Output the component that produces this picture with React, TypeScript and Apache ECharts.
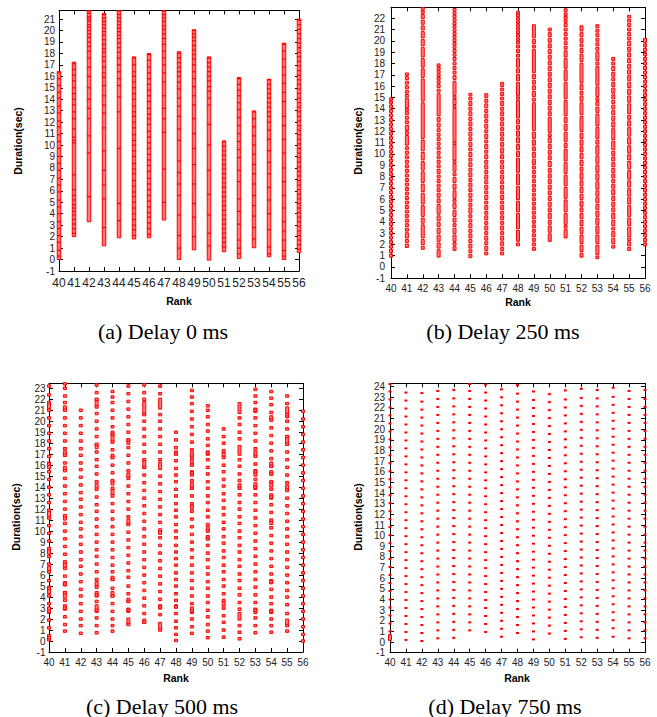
import React, { useEffect, useRef } from "react";
import * as echarts from "echarts";

// ---------- data ----------
const ranks = [40, 41, 42, 43, 44, 45, 46, 47, 48, 49, 50, 51, 52, 53, 54, 55, 56];
const yTicksA = [-1, 0, 1, 2, 3, 4, 5, 6, 7, 8, 9, 10, 11, 12, 13, 14, 15, 16, 17, 18, 19, 20, 21];
const yTicksB = [-1, 0, 1, 2, 3, 4, 5, 6, 7, 8, 9, 10, 11, 12, 13, 14, 15, 16, 17, 18, 19, 20, 21, 22];
const yTicksC = [-1, 0, 1, 2, 3, 4, 5, 6, 7, 8, 9, 10, 11, 12, 13, 14, 15, 16, 17, 18, 19, 20, 21, 22, 23];
const yTicksD = [-1, 0, 1, 2, 3, 4, 5, 6, 7, 8, 9, 10, 11, 12, 13, 14, 15, 16, 17, 18, 19, 20, 21, 22, 23, 24];
const captions = ["(a) Delay 0 ms", "(b) Delay 250 ms", "(c) Delay 500 ms", "(d) Delay 750 ms"];

// (a) Delay 0 ms : column extent per rank + event boundaries inside each column
const aLow = [0, 2.0, 3.3, 1.2, 1.9, 1.8, 1.9, 3.45, 0, 0.85, -0.05, 0.68, 0.1, 1.03, 0.24, 0, 0.62];
const aHigh = [16.42, 17.24, 21.75, 21.5, 21.75, 17.7, 18.0, 21.75, 18.15, 20.07, 17.7, 10.36, 15.9, 12.98, 15.75, 18.9, 21.0];
const aMarks: number[][] = [
  [16.3, 15.8, 15.2, 14.6, 14.1, 13.4, 12.8, 12.1, 11.6, 10.9, 10.3, 9.7, 9.0, 8.4, 7.8, 7.1, 6.5, 5.9, 5.2, 4.6, 4.0, 3.3, 2.7, 2.1, 1.5, 0.8, 0.3],
  [17.1, 16.6, 16.1, 15.6, 15.0, 14.5, 14.0, 13.5, 12.9, 12.3, 11.4, 10.7, 10.4, 10.2, 7.4, 6.1, 5.6, 5.2, 4.8, 4.5, 4.2, 3.9, 3.5, 3.1, 2.7, 2.3],
  [21.7, 21.5, 21.2, 21.0, 20.8, 20.5, 20.3, 20.0, 19.7, 19.4, 19.0, 18.6, 18.2, 17.6, 16.8, 16.0, 15.0, 14.0, 13.2, 12.3, 10.8, 9.3, 5.5],
  [21.4, 21.1, 20.8, 20.5, 20.2, 19.9, 19.6, 19.2, 18.8, 18.4, 18.1, 17.7, 17.3, 16.8, 16.3, 15.9, 15.2, 14.3, 13.5, 12.8, 11.5, 9.5, 7.8, 6.5, 5.3, 2.8],
  [21.7, 21.4, 21.1, 20.8, 20.5, 20.2, 19.9, 19.6, 19.3, 18.9, 18.5, 18.1, 17.6, 17.0, 16.4, 15.8, 15.2, 14.2, 12.9, 9.7, 4.9, 3.4],
  [17.6, 17.0, 16.4, 16.0, 15.5, 15.0, 14.5, 14.0, 13.4, 12.9, 12.5, 12.0, 11.5, 10.9, 10.4, 10.0, 9.5, 9.0, 8.4, 7.9, 7.5, 6.9, 6.4, 5.9, 5.5, 5.0, 4.5, 4.0, 3.5, 3.0, 2.6, 2.1],
  [17.9, 17.4, 16.8, 16.3, 15.8, 15.3, 14.8, 14.3, 13.8, 13.2, 12.7, 12.3, 11.8, 11.2, 10.7, 10.2, 9.7, 9.2, 8.7, 8.2, 7.7, 7.1, 6.6, 6.1, 5.6, 5.1, 4.6, 4.1, 3.7, 3.2, 2.7, 2.2],
  [21.7, 21.4, 21.1, 20.8, 20.4, 20.1, 19.7, 19.3, 18.8, 18.2, 17.6, 17.0, 16.3, 15.5, 14.3, 13.2, 12.3, 11.1, 7.9, 5.0],
  [18.0, 17.6, 17.2, 16.8, 16.4, 16.0, 15.5, 14.9, 14.1, 13.4, 12.5, 11.4, 10.4, 8.6, 7.6, 6.6, 5.6, 3.9, 2.1, 1.0],
  [20.0, 19.7, 19.4, 19.1, 18.7, 18.3, 17.9, 17.5, 17.0, 16.4, 15.8, 15.1, 14.3, 13.5, 12.3, 11.0, 9.7, 8.3, 6.6, 4.9, 3.7, 2.0],
  [17.6, 17.2, 16.8, 16.4, 16.0, 15.6, 15.1, 14.7, 14.1, 13.5, 11.8, 10.0, 7.8, 5.7, 3.9, 2.3, 1.2],
  [10.3, 9.9, 9.5, 9.1, 8.7, 8.3, 7.9, 7.5, 7.1, 6.7, 6.3, 5.9, 5.5, 5.1, 4.7, 4.3, 3.9, 3.5, 3.1, 2.7, 2.3, 1.9, 1.5, 1.1],
  [15.8, 15.3, 14.8, 14.3, 13.7, 13.1, 12.4, 11.7, 11.0, 10.3, 9.6, 8.9, 7.8, 6.8, 5.3, 4.2, 3.1, 1.7, 1.0, 0.5],
  [12.9, 12.3, 11.6, 10.8, 10.0, 9.2, 8.3, 7.5, 6.6, 5.6, 4.7, 3.8, 2.8, 1.8],
  [15.7, 15.3, 14.9, 14.5, 14.1, 13.7, 13.3, 12.9, 12.5, 12.0, 11.3, 10.5, 9.5, 8.5, 7.5, 6.3, 5.2, 4.0, 2.6, 1.1, 0.5],
  [18.8, 18.2, 17.5, 16.8, 16.1, 15.4, 14.6, 13.8, 12.5, 11.7, 10.5, 9.3, 8.0, 6.8, 5.6, 4.5, 3.3, 2.5, 1.7, 0.8, 0.3],
  [20.9, 20.5, 20.1, 19.7, 19.3, 18.9, 18.5, 18.1, 17.7, 17.3, 16.9, 16.5, 16.1, 15.7, 15.3, 14.9, 14.5, 14.1, 13.7, 13.3, 12.9, 12.5, 12.1, 11.7, 11.3, 10.9, 10.5, 10.1, 9.7, 9.3, 8.9, 8.5, 8.1, 7.7, 7.3, 6.9, 6.5, 6.1, 5.7, 5.3, 4.9, 4.5, 4.1, 3.7, 3.3, 2.9, 2.5, 2.1, 1.7, 1.3, 0.9],
];

// (b) Delay 250 ms : event boundaries per rank (consecutive events)
const bBounds: number[][] = [
  [0.8, 1.2, 1.6, 2.0, 2.4, 2.8, 3.2, 3.6, 4.0, 4.4, 4.8, 5.2, 5.6, 6.0, 6.4, 6.8, 7.2, 7.6, 8.0, 8.4, 8.8, 9.2, 9.6, 10.0, 10.4, 10.8, 11.2, 11.6, 12.0, 12.4, 12.8, 13.2, 13.6, 14.0, 14.4, 14.7, 15.0],
  [1.65, 2.1, 2.5, 3.1, 3.5, 3.9, 4.3, 4.7, 5.1, 5.5, 5.9, 6.3, 6.7, 7.1, 7.5, 7.9, 8.3, 8.7, 9.1, 9.5, 9.9, 10.3, 10.7, 11.7, 12.0, 12.6, 13.0, 13.4, 13.8, 14.0, 15.0, 15.3, 15.7, 16.1, 16.5, 16.9, 17.2],
  [1.5, 1.9, 2.5, 3.8, 4.4, 5.5, 6.6, 7.4, 8.5, 9.4, 10.2, 11.3, 14.6, 16.7, 17.6, 18.5, 19.5, 20.2, 20.9, 21.4, 21.9, 22.4, 22.7, 22.97],
  [0.8, 1.6, 2.2, 2.9, 3.5, 4.0, 4.6, 5.6, 6.1, 6.6, 7.0, 7.4, 7.8, 8.2, 8.7, 9.1, 9.5, 9.9, 10.3, 10.7, 11.1, 11.5, 11.9, 12.3, 12.8, 13.3, 15.4, 15.8, 16.2, 16.5, 16.8, 17.1, 17.4, 17.7, 18.0],
  [1.4, 1.9, 2.2, 2.9, 3.5, 3.9, 4.4, 5.1, 5.7, 6.0, 6.8, 7.4, 8.0, 8.4, 9.2, 9.4, 10.9, 11.0, 14.1, 14.3, 14.9, 15.1, 16.5, 17.0, 17.4, 17.8, 18.2, 18.6, 18.9, 19.3, 19.6, 19.9, 20.2, 20.5, 20.8, 21.1, 21.4, 21.7, 22.0, 22.3, 22.6, 22.9],
  [0.75, 1.2, 1.6, 2.1, 2.5, 3.0, 3.4, 3.9, 4.3, 4.7, 5.3, 5.7, 6.1, 6.6, 7.0, 7.5, 7.9, 8.4, 8.8, 9.3, 9.7, 10.2, 10.6, 11.1, 11.5, 12.0, 12.4, 12.9, 13.3, 13.8, 14.2, 14.7, 15.1, 15.4],
  [1.0, 1.4, 1.9, 2.3, 2.8, 3.2, 3.7, 4.1, 4.6, 5.0, 5.5, 5.9, 6.4, 6.8, 7.3, 7.7, 8.2, 8.6, 9.1, 9.5, 10.0, 10.4, 10.9, 11.3, 11.8, 12.2, 12.7, 13.1, 13.6, 14.0, 14.5, 14.9, 15.4],
  [1.0, 1.4, 1.8, 2.3, 2.8, 3.2, 3.7, 4.1, 4.6, 5.0, 5.5, 5.9, 6.4, 6.8, 7.3, 7.7, 8.2, 8.6, 9.1, 9.5, 10.0, 10.6, 11.1, 11.5, 12.0, 12.4, 12.9, 13.3, 13.8, 14.2, 14.7, 15.1, 15.5, 15.9, 16.4],
  [1.8, 2.2, 3.3, 4.8, 5.9, 7.2, 8.3, 9.7, 10.3, 10.9, 11.5, 12.1, 12.6, 13.1, 14.8, 15.1, 16.4, 17.1, 17.6, 18.5, 18.9, 19.3, 19.7, 20.0, 20.3, 20.6, 20.9, 21.2, 21.5, 21.8, 22.1, 22.4, 22.6],
  [1.4, 1.8, 2.2, 2.6, 3.0, 3.4, 3.8, 4.2, 4.6, 5.0, 5.4, 5.8, 6.2, 6.6, 7.0, 7.4, 7.8, 8.2, 8.6, 9.0, 9.6, 10.2, 10.7, 11.3, 12.0, 14.6, 15.0, 15.6, 16.1, 16.6, 17.1, 19.3, 19.7, 20.2, 21.5],
  [2.2, 3.0, 3.7, 4.2, 4.8, 5.3, 5.8, 6.3, 6.8, 7.3, 7.8, 8.3, 8.8, 9.4, 9.9, 10.4, 10.9, 11.5, 11.8, 13.3, 13.8, 14.3, 14.8, 15.3, 15.8, 16.3, 16.8, 17.3, 17.8, 18.3, 18.8, 19.3, 19.8, 20.3, 20.8, 21.2],
  [2.5, 3.4, 3.7, 4.8, 6.0, 7.1, 8.2, 9.3, 10.5, 11.0, 12.0, 12.7, 13.3, 14.8, 16.4, 17.5, 18.5, 19.2, 19.6, 20.0, 20.4, 20.8, 21.2, 21.6, 21.9, 22.2, 22.5, 22.9],
  [0.8, 1.3, 2.0, 2.9, 3.6, 4.2, 4.8, 5.3, 5.9, 6.5, 7.1, 7.7, 8.4, 8.9, 9.5, 10.1, 10.7, 11.3, 11.9, 13.4, 14.6, 15.2, 15.6, 16.2, 18.1, 18.9, 19.4, 19.8, 20.3, 20.8, 21.4],
  [0.7, 1.0, 2.0, 2.9, 3.7, 4.4, 5.0, 5.6, 6.2, 6.8, 7.6, 8.3, 9.1, 9.9, 10.8, 11.3, 12.4, 13.6, 14.2, 14.7, 15.0, 16.0, 17.8, 18.2, 19.1, 19.5, 19.9, 20.3, 20.7, 21.1, 21.5],
  [1.6, 2.0, 2.6, 3.2, 3.6, 4.2, 4.8, 5.3, 5.8, 6.3, 6.9, 7.4, 7.8, 8.3, 8.8, 9.3, 9.8, 10.3, 11.2, 12.3, 12.9, 13.4, 13.9, 14.4, 14.8, 15.3, 15.9, 16.4, 16.8, 17.3, 17.8, 18.2, 18.6],
  [1.4, 1.8, 2.3, 2.6, 3.6, 4.4, 5.5, 6.2, 7.0, 7.7, 8.6, 9.4, 10.0, 10.8, 11.5, 12.4, 13.0, 13.5, 14.5, 15.2, 15.8, 16.4, 17.0, 17.5, 18.0, 18.5, 19.0, 19.5, 20.0, 20.4, 20.8, 21.2, 21.6, 22.0, 22.3],
  [1.8, 2.2, 2.6, 3.0, 3.4, 3.8, 4.2, 4.6, 5.0, 5.4, 5.8, 6.2, 6.6, 7.0, 7.4, 7.8, 8.2, 8.6, 9.0, 9.4, 9.8, 10.2, 10.6, 11.0, 11.4, 11.8, 12.2, 12.6, 13.0, 13.4, 13.8, 14.2, 14.6, 15.0, 15.4, 15.8, 16.2, 16.6, 17.0, 17.4, 17.8, 18.2, 18.6, 19.0, 19.4, 19.8, 20.3],
];

// (c) Delay 500 ms : short events (dots) and longer events (rects)
const cDots: number[][] = [
  [0.3, 1.2, 1.9, 2.7, 3.4, 4.1, 4.8, 5.5, 6.3, 7.0, 7.7, 8.4, 9.1, 9.8, 10.5, 11.2, 11.9, 12.6, 13.3, 14.0, 14.7, 15.4, 16.1, 16.8, 17.5, 18.2, 18.9, 19.6, 20.3, 21.0, 21.7, 22.4, 23.2],
  [0.9, 1.5, 2.2, 3.0, 3.7, 4.4, 5.2, 5.9, 6.6, 7.2, 7.9, 8.6, 9.3, 10.0, 10.7, 11.4, 12.0, 12.7, 13.4, 14.1, 14.8, 15.5, 16.2, 16.9, 17.5, 18.2, 18.9, 19.6, 20.3, 21.0, 21.7, 22.3, 23.0, 23.4],
  [0.7, 1.4, 2.0, 2.7, 3.4, 4.1, 4.7, 5.4, 6.1, 6.8, 7.4, 8.1, 8.8, 9.5, 10.2, 10.8, 11.5, 12.2, 12.9, 13.5, 14.2, 14.9, 15.6, 16.2, 16.9, 17.5, 18.2, 18.9, 19.6, 20.3, 21.0],
  [0.75, 1.4, 2.1, 2.8, 3.6, 4.2, 4.9, 5.6, 6.3, 7.0, 7.7, 8.3, 9.0, 9.7, 10.4, 11.1, 11.8, 12.4, 13.1, 13.8, 14.5, 15.2, 15.9, 16.5, 17.2, 17.9, 18.6, 19.3, 20.0, 20.7, 21.3, 22.0, 22.6, 23.3],
  [0.9, 1.4, 2.0, 2.7, 3.4, 4.1, 4.8, 5.6, 6.3, 6.9, 7.6, 8.3, 9.0, 9.7, 10.4, 11.1, 11.8, 12.5, 13.2, 13.9, 14.6, 15.3, 16.0, 16.7, 17.4, 18.1, 18.8, 19.5, 20.3, 21.0, 21.7, 22.2, 22.7],
  [1.5, 2.8, 3.6, 4.3, 5.0, 5.8, 6.4, 7.1, 7.8, 8.5, 9.2, 9.9, 10.6, 11.3, 12.0, 12.7, 13.4, 14.1, 14.8, 15.5, 16.2, 16.9, 17.6, 18.3, 19.0, 19.7, 20.4, 21.1, 21.8, 22.5, 23.2],
  [1.7, 2.5, 3.2, 3.9, 4.6, 5.3, 6.0, 6.7, 7.4, 8.1, 8.8, 9.5, 10.2, 10.9, 11.6, 12.3, 13.0, 13.7, 14.4, 15.1, 15.8, 16.5, 17.2, 17.9, 18.6, 19.3, 20.0, 20.6, 22.0, 22.6, 23.3],
  [1.0, 2.4, 3.1, 3.8, 4.5, 5.2, 5.9, 6.6, 7.3, 8.0, 8.7, 9.4, 10.1, 10.8, 11.5, 12.2, 12.9, 13.6, 14.3, 15.0, 16.5, 17.2, 17.9, 18.6, 19.3, 20.0, 20.6, 22.5, 23.2],
  [0.05, 0.6, 1.2, 1.8, 2.5, 3.1, 3.7, 4.3, 5.0, 5.6, 6.2, 6.9, 7.5, 8.1, 8.7, 9.4, 10.0, 10.6, 11.3, 11.9, 12.5, 13.2, 13.8, 14.5, 15.1, 15.7, 16.4, 17.0, 17.6, 18.3, 19.0],
  [0.7, 1.3, 2.0, 2.7, 3.4, 4.1, 4.8, 5.5, 6.2, 6.9, 7.6, 8.3, 9.0, 9.7, 10.4, 11.1, 11.8, 12.5, 13.2, 13.9, 14.6, 15.3, 16.0, 16.7, 17.4, 18.1, 18.8, 19.5, 20.2, 20.9, 21.6, 22.2, 22.8],
  [0.3, 0.9, 1.5, 2.2, 2.8, 3.5, 4.1, 4.8, 5.4, 6.1, 6.7, 7.4, 8.0, 8.7, 9.3, 10.0, 10.6, 11.3, 11.9, 12.6, 13.2, 13.9, 14.5, 15.2, 15.8, 16.5, 17.1, 17.8, 18.4, 19.1, 19.7, 20.4, 21.0, 21.4],
  [0.35, 1.0, 1.7, 2.3, 3.0, 3.7, 4.3, 5.0, 5.6, 6.3, 6.9, 7.6, 8.2, 8.9, 9.5, 10.2, 10.8, 11.5, 12.1, 12.8, 13.4, 14.1, 14.7, 15.4, 16.0, 16.7, 17.3, 18.0, 18.6, 19.3],
  [0.2, 0.8, 1.4, 2.9, 3.5, 4.2, 4.8, 5.5, 6.1, 6.8, 7.4, 8.1, 8.7, 9.4, 10.0, 10.7, 11.3, 12.0, 12.6, 13.3, 13.9, 14.6, 15.2, 15.9, 16.5, 18.4, 19.0, 19.7, 20.3],
  [0.75, 1.4, 2.1, 2.8, 3.5, 4.2, 4.9, 5.6, 6.3, 7.0, 7.7, 8.4, 9.1, 9.8, 10.5, 11.2, 11.9, 12.6, 13.3, 14.0, 14.7, 15.4, 16.1, 16.8, 17.5, 18.2, 18.9, 19.6, 20.3, 21.0, 21.7, 22.3, 22.9],
  [0.8, 1.4, 2.0, 2.7, 3.4, 4.0, 4.7, 5.4, 6.1, 6.8, 7.5, 8.2, 8.9, 9.6, 10.3, 11.0, 11.7, 12.4, 13.1, 13.8, 14.5, 15.2, 15.9, 16.6, 17.3, 18.0, 18.7, 19.4, 20.1, 20.8, 21.5, 22.1, 22.7],
  [0.9, 1.4, 2.5, 3.3, 4.0, 4.6, 5.3, 6.0, 6.7, 7.4, 8.1, 8.8, 9.5, 10.2, 10.9, 11.6, 12.3, 13.0, 13.7, 14.4, 15.1, 15.8, 16.5, 17.2, 17.9, 18.6, 19.3, 20.0, 20.6, 21.6, 22.3],
  [0.0, 0.6, 1.3, 2.0, 2.7, 3.4, 4.1, 4.8, 5.5, 6.2, 6.9, 7.6, 8.3, 9.0, 9.7, 10.4, 11.1, 11.8, 12.5, 13.2, 13.9, 14.6, 15.3, 16.0, 16.7, 17.4, 18.1, 18.8, 19.5, 20.2, 20.9],
];
const cRects: number[][][] = [
  [[0.0, 0.6], [2.5, 3.1], [4.3, 5.0], [6.2, 6.8], [7.9, 8.5], [11.3, 11.9], [15.7, 16.3], [21.1, 21.7]],
  [[2.8, 3.3], [3.9, 4.5], [5.0, 5.4], [6.7, 7.1], [11.0, 11.4], [15.5, 15.9], [16.9, 17.3], [21.0, 21.4]],
  [],
  [[2.6, 3.3], [4.0, 4.5], [5.0, 5.4], [13.9, 14.3], [17.5, 17.9], [21.4, 22.0]],
  [[4.0, 4.5], [5.5, 5.9], [13.3, 13.8], [14.2, 14.6], [16.6, 17.0], [18.1, 19.1]],
  [[1.5, 2.1], [2.6, 3.0], [3.5, 3.9], [10.6, 11.1], [14.9, 15.3], [17.9, 18.4]],
  [[1.6, 2.0], [15.7, 16.5], [20.6, 21.8]],
  [[1.0, 1.7], [2.9, 3.3], [9.7, 10.1], [15.6, 16.3], [21.1, 22.1]],
  [[3.0, 3.3], [17.0, 17.3]],
  [[2.5, 3.1], [12.0, 12.4], [13.8, 14.4], [15.0, 15.5], [16.1, 16.5], [16.8, 17.2]],
  [[9.2, 9.6], [10.0, 10.4], [16.9, 17.3]],
  [[3.2, 3.6], [16.8, 17.2]],
  [[1.9, 2.6], [13.9, 14.3], [16.9, 17.8], [20.7, 21.7]],
  [[2.5, 3.0], [13.8, 14.4], [15.0, 15.6], [16.8, 17.3], [20.8, 21.2]],
  [[2.5, 2.9], [5.2, 5.6], [10.6, 11.0], [12.9, 13.4], [14.0, 14.5], [15.1, 15.5], [15.8, 16.3], [20.1, 20.5]],
  [[1.4, 2.0], [13.8, 14.2], [17.8, 18.7], [20.3, 21.3]],
  [],
];

// (d) Delay 750 ms : short events per rank
const dDots: number[][] = [
  [1.0, 1.75, 2.5, 3.25, 4.0, 4.8, 5.55, 6.3, 7.05, 7.8, 8.55, 9.3, 10.05, 10.8, 11.55, 12.3, 13.05, 13.8, 14.55, 15.3, 16.05, 16.8, 17.55, 18.3, 19.05, 19.8, 20.55, 21.3, 22.05, 22.8, 23.55, 24.25],
  [0.2, 0.95, 1.7, 2.45, 3.2, 3.95, 4.7, 5.45, 6.2, 6.95, 7.7, 8.45, 9.2, 9.95, 10.7, 11.45, 12.2, 12.95, 13.7, 14.45, 15.2, 15.95, 16.7, 17.45, 18.2, 18.95, 19.7, 20.45, 21.2, 21.95, 22.7, 23.45],
  [0.1, 0.85, 1.6, 2.35, 3.1, 3.85, 4.6, 5.35, 6.1, 6.85, 7.6, 8.35, 9.1, 9.85, 10.6, 11.35, 12.1, 12.85, 13.6, 14.35, 15.1, 15.85, 16.6, 17.35, 18.1, 18.85, 19.6, 20.35, 21.1, 21.85, 22.6, 23.4],
  [0.35, 1.1, 1.85, 2.6, 3.35, 4.1, 4.85, 5.6, 6.35, 7.1, 7.85, 8.6, 9.35, 10.1, 10.85, 11.6, 12.35, 13.1, 13.85, 14.6, 15.35, 16.1, 16.85, 17.6, 18.35, 19.1, 19.85, 20.6, 21.35, 22.1, 22.85, 23.6],
  [0.4, 1.15, 1.9, 2.65, 3.4, 4.15, 4.9, 5.65, 6.4, 7.15, 7.9, 8.65, 9.4, 10.15, 10.9, 11.65, 12.4, 13.15, 13.9, 14.65, 15.4, 16.15, 16.9, 17.65, 18.4, 19.15, 19.9, 20.65, 21.4, 22.15, 22.9, 23.7],
  [1.1, 1.85, 2.6, 3.35, 4.1, 4.85, 5.6, 6.35, 7.1, 7.85, 8.6, 9.35, 10.1, 10.85, 11.6, 12.35, 13.1, 13.85, 14.6, 15.35, 16.1, 16.85, 17.6, 18.35, 19.1, 19.85, 20.6, 21.35, 22.1, 22.85, 23.6, 24.25],
  [0.95, 1.7, 2.45, 3.2, 3.95, 4.7, 5.45, 6.2, 6.95, 7.7, 8.45, 9.2, 9.95, 10.7, 11.45, 12.2, 12.95, 13.7, 14.45, 15.2, 15.95, 16.7, 17.45, 18.2, 18.95, 19.7, 20.45, 21.2, 21.95, 22.7, 23.45, 24.2],
  [0.5, 1.25, 2.0, 2.75, 3.5, 4.25, 5.0, 5.75, 6.5, 7.25, 8.0, 8.75, 9.5, 10.25, 11.0, 11.75, 12.5, 13.25, 14.0, 14.75, 15.5, 16.25, 17.0, 17.75, 18.5, 19.25, 20.0, 20.75, 21.5, 22.25, 23.0, 23.75],
  [0.85, 1.6, 2.35, 3.1, 3.85, 4.6, 5.35, 6.1, 6.85, 7.6, 8.35, 9.1, 9.85, 10.6, 11.35, 12.1, 12.85, 13.6, 14.35, 15.1, 15.85, 16.6, 17.35, 18.1, 18.85, 19.6, 20.35, 21.1, 21.85, 22.6, 23.35, 24.15],
  [0.25, 1.0, 1.75, 2.5, 3.25, 4.0, 4.75, 5.5, 6.25, 7.0, 7.75, 8.5, 9.25, 10.0, 10.75, 11.5, 12.25, 13.0, 13.75, 14.5, 15.25, 16.0, 16.75, 17.5, 18.25, 19.0, 19.75, 20.5, 21.25, 22.0, 22.75, 23.55],
  [0.8, 1.55, 2.3, 3.05, 3.8, 4.55, 5.3, 6.05, 6.8, 7.55, 8.3, 9.05, 9.8, 10.55, 11.3, 12.05, 12.8, 13.55, 14.3, 15.05, 15.8, 16.55, 17.3, 18.05, 18.8, 19.55, 20.3, 21.05, 21.8, 22.55, 23.3],
  [0.3, 1.05, 1.8, 2.55, 3.3, 4.05, 4.8, 5.55, 6.3, 7.05, 7.8, 8.55, 9.3, 10.05, 10.8, 11.55, 12.3, 13.05, 13.8, 14.55, 15.3, 16.05, 16.8, 17.55, 18.3, 19.05, 19.8, 20.55, 21.3, 22.05, 22.8, 23.65],
  [0.45, 1.2, 1.95, 2.7, 3.45, 4.2, 4.95, 5.7, 6.45, 7.2, 7.95, 8.7, 9.45, 10.2, 10.95, 11.7, 12.45, 13.2, 13.95, 14.7, 15.45, 16.2, 16.95, 17.7, 18.45, 19.2, 19.95, 20.7, 21.45, 22.2, 22.95, 23.8],
  [0.4, 1.15, 1.9, 2.65, 3.4, 4.15, 4.9, 5.65, 6.4, 7.15, 7.9, 8.65, 9.4, 10.15, 10.9, 11.65, 12.4, 13.15, 13.9, 14.65, 15.4, 16.15, 16.9, 17.65, 18.4, 19.15, 19.9, 20.65, 21.4, 22.15, 22.9, 23.7],
  [0.5, 1.3, 2.05, 2.8, 3.55, 4.3, 5.05, 5.8, 6.55, 7.3, 8.05, 8.8, 9.55, 10.3, 11.05, 11.8, 12.55, 13.3, 14.05, 14.8, 15.55, 16.3, 17.05, 17.8, 18.55, 19.3, 20.05, 20.8, 21.55, 22.3, 23.05, 23.9],
  [0.35, 1.1, 1.85, 2.6, 3.35, 4.1, 4.85, 5.6, 6.35, 7.1, 7.85, 8.6, 9.35, 10.1, 10.85, 11.6, 12.35, 13.1, 13.85, 14.6, 15.35, 16.1, 16.85, 17.6, 18.35, 19.1, 19.85, 20.6, 21.35, 22.1, 22.85, 23.6],
  [0.35, 1.1, 1.85, 2.6, 3.35, 4.1, 4.85, 5.6, 6.35, 7.1, 7.85, 8.6, 9.35, 10.1, 10.85, 11.6, 12.35, 13.1, 13.85, 14.6, 15.35, 16.1, 16.85, 17.6, 18.35, 19.1, 19.85, 20.6, 21.35, 22.1, 22.85, 23.7],
];
const dRects: number[][][] = [[[0.15, 0.7]], [], [], [], [], [], [], [], [], [], [], [], [], [], [], [], []];

// ---------- layout (not data) ----------
const panels = [
  { left: 59, top: 10.5, width: 240, height: 260.5, ymax: 21.75, ticks: yTicksA, xFont: 12, yFont: 10, xMargin: 6, yMargin: 4, rank: [179, 301], dur: [18, 141], cap: [163, 331] },
  { left: 391, top: 7.3, width: 254, height: 271, ymax: 22.97, ticks: yTicksB, xFont: 10, yFont: 10, xMargin: 5, yMargin: 6, rank: [518, 302], dur: [358, 141], cap: [503, 331] },
  { left: 49, top: 383.3, width: 254, height: 268.7, ymax: 23.45, ticks: yTicksC, xFont: 10, yFont: 10, xMargin: 5, yMargin: 3.5, rank: [176, 678], dur: [16, 517], cap: [162, 706] },
  { left: 390, top: 383.3, width: 255, height: 269.4, ymax: 24.32, ticks: yTicksD, xFont: 10, yFont: 10, xMargin: 5, yMargin: 5, rank: [517, 678], dur: [358, 517], cap: [505, 706] },
];

const SANS = '"Liberation Sans", Arial, Helvetica, sans-serif';
const SERIF = '"Liberation Serif", "Times New Roman", serif';
const RED = "#ff0000";
const PINK = "#ff7a7a";

function rectSeries(g: number, data: number[][], w: number, minH: number, inset: number, fill: string, stroke: string | null, lw: number) {
  return {
    type: "custom",
    xAxisIndex: 2 * g,
    yAxisIndex: 2 * g,
    silent: true,
    data,
    renderItem: (_params: any, api: any) => {
      const x = api.value(0);
      const lo = api.value(1);
      const hi = api.value(2);
      const p0 = api.coord([x, lo]);
      const p1 = api.coord([x, hi]);
      let top = Math.min(p0[1], p1[1]) + inset;
      let bot = Math.max(p0[1], p1[1]) - inset;
      if (bot - top < minH) {
        const c = (top + bot) / 2;
        top = c - minH / 2;
        bot = c + minH / 2;
      }
      return {
        type: "rect",
        shape: { x: p0[0] - w / 2, y: top, width: w, height: bot - top },
        style: stroke ? { fill, stroke, lineWidth: lw } : { fill },
      };
    },
  };
}

export default function App() {
  const ref = useRef<HTMLDivElement>(null);
  useEffect(() => {
    if (!ref.current) return;
    const chart = echarts.init(ref.current, null, { renderer: "svg" });

    const grid: any[] = [];
    const xAxis: any[] = [];
    const yAxis: any[] = [];
    const graphic: any[] = [];
    panels.forEach((p, g) => {
      grid.push({ left: p.left, top: p.top, width: p.width, height: p.height });
      const line = { show: true, onZero: false, lineStyle: { color: "#000", width: 1 } };
      const tick = { show: true, inside: true, length: 4, lineStyle: { color: "#000", width: 1 } };
      xAxis.push({
        gridIndex: g, type: "value", min: 40, max: 56, interval: 1, position: "bottom",
        axisLine: line, axisTick: tick, splitLine: { show: false },
        axisLabel: { show: true, fontSize: p.xFont, fontFamily: SANS, color: "#222", margin: p.xMargin, showMinLabel: true, showMaxLabel: true },
      });
      xAxis.push({
        gridIndex: g, type: "value", min: 40, max: 56, interval: 1, position: "top",
        axisLine: line, axisTick: tick, splitLine: { show: false }, axisLabel: { show: false },
      });
      const fmt = (v: number) => (Number.isInteger(v) ? String(v) : "");
      yAxis.push({
        gridIndex: g, type: "value", min: -1, max: p.ymax, interval: 1, position: "left",
        axisLine: line, axisTick: { ...tick, customValues: p.ticks }, splitLine: { show: false },
        axisLabel: { show: true, customValues: p.ticks, formatter: fmt, fontSize: p.yFont, fontFamily: SANS, color: "#222", margin: p.yMargin },
      });
      yAxis.push({
        gridIndex: g, type: "value", min: -1, max: p.ymax, interval: 1, position: "right",
        axisLine: line, axisTick: { ...tick, customValues: p.ticks }, splitLine: { show: false }, axisLabel: { show: false },
      });
      graphic.push({
        type: "text", x: p.rank[0], y: p.rank[1],
        style: { text: "Rank", fontSize: 10.5, fontWeight: "bold", fontFamily: SANS, fill: "#000", textAlign: "center", textVerticalAlign: "middle", align: "center", verticalAlign: "middle" },
      });
      graphic.push({
        type: "text", x: p.dur[0], y: p.dur[1], rotation: Math.PI / 2,
        style: { text: "Duration(sec)", fontSize: 10.5, fontWeight: "bold", fontFamily: SANS, fill: "#000", textAlign: "center", textVerticalAlign: "middle", align: "center", verticalAlign: "middle" },
      });
      graphic.push({
        type: "text", x: p.cap[0], y: p.cap[1],
        style: { text: captions[g], fontSize: 22, fontFamily: SERIF, fill: "#000", textAlign: "center", textVerticalAlign: "middle", align: "center", verticalAlign: "middle" },
      });
    });

    const colsA = ranks.map((r, i) => [r, aLow[i], aHigh[i]]);
    const marksA = ranks.flatMap((r, i) => aMarks[i].map((v) => [r, v, v]));
    const segsB = ranks.flatMap((r, i) => bBounds[i].slice(1).map((v, j) => [r, bBounds[i][j], v]));
    const dotsC = ranks.flatMap((r, i) => cDots[i].map((v) => [r, v, v]));
    const rectsC = ranks.flatMap((r, i) => cRects[i].map((q) => [r, q[0], q[1]]));
    const dotsD = ranks.flatMap((r, i) => dDots[i].map((v) => [r, v, v]));
    const rectsD = ranks.flatMap((r, i) => dRects[i].map((q) => [r, q[0], q[1]]));

    chart.setOption({
      animation: false,
      backgroundColor: "#fff",
      grid,
      xAxis,
      yAxis,
      graphic,
      series: [
        rectSeries(0, colsA, 3.5, 1, 0, PINK, RED, 1),
        rectSeries(0, marksA, 4, 1.2, 0, RED, null, 0),
        rectSeries(1, segsB, 3, 2.5, 0.8, PINK, RED, 1),
        rectSeries(2, rectsC, 3, 2.5, 0, PINK, RED, 1),
        rectSeries(2, dotsC, 3, 2.5, 0, PINK, RED, 1),
        rectSeries(3, rectsD, 3, 2, 0, PINK, RED, 1),
        rectSeries(3, dotsD, 3, 2, 0, RED, null, 0),
      ],
    });
    return () => chart.dispose();
  }, []);
  return <div ref={ref} style={{ position: "absolute", left: 0, top: 0, width: 657, height: 717, background: "#fff" }} />;
}
